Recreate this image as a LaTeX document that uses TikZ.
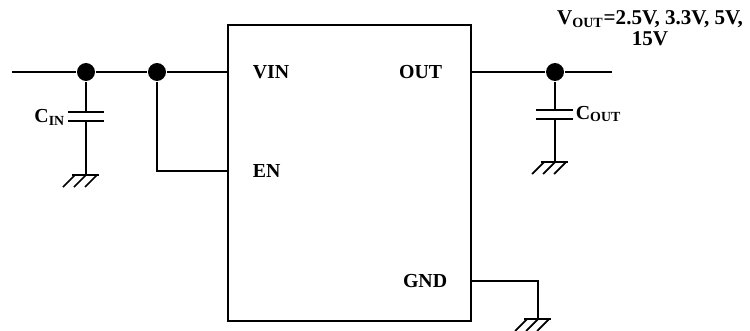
\documentclass[tikz,border=0pt]{standalone}
\usepackage{fontspec}
\setmainfont{Liberation Serif}
\tikzset{
  junction/.style={circle,fill,inner sep=0pt,minimum size=10.2pt},
  pinlbl/.style={font=\bfseries\fontsize{11.3}{12}\selectfont,inner sep=0pt},
  gnd/.pic={
    \draw (-14,0) -- (13,0);
    \draw (-11,0) -- (-23,12);
    \draw (0,0) -- (-12,12);
    \draw (11,0) -- (-1,12);
  }
}
\begin{document}
\begin{tikzpicture}[x=0.02cm,y=-0.02cm,line width=1pt]
  \useasboundingbox (0,0) rectangle (750,331);

  % Regulator
  \node (ic) [draw,line width=1pt,minimum width=4.86cm,minimum height=5.92cm,anchor=north west] at (227,24) {};
  \node (vin) [pinlbl,anchor=west] at (252,72) {VIN};
  \node (en) [pinlbl,anchor=west] at (252,171) {EN};
  \node (out) [pinlbl,anchor=east] at (443,72) {OUT};
  \node (gnd) [pinlbl,anchor=east] at (448,281) {GND};

  % Input side
  \coordinate (inl) at (12,72);
  \node (j1) [junction] at (86,72) {};
  \node (j2) [junction] at (157,72) {};
  \draw (inl) -- (j1) -- (j2) -- (ic.west |- j2);
  \draw (j2) |- (ic.west |- en);

  \coordinate (cintop) at (86,112);
  \coordinate (cinbot) at (86,121);
  \coordinate (cingnd) at (86,175);
  \draw (j1) -- (cintop);
  \draw ([xshift=-18*0.02cm]cintop) -- ([xshift=18*0.02cm]cintop);
  \draw ([xshift=-18*0.02cm]cinbot) -- ([xshift=18*0.02cm]cinbot);
  \draw (cinbot) -- (cingnd);
  \pic at (cingnd) {gnd};
  \node (cin) [pinlbl,anchor=east] at (66,117) {C\textsubscript{IN}};

  % Output side
  \coordinate (outr) at (612,72);
  \node (j3) [junction] at (555,72) {};
  \draw (ic.east |- j3) -- (j3) -- (outr);
  \coordinate (couttop) at (555,110);
  \coordinate (coutbot) at (555,119);
  \coordinate (coutgnd) at (555,162);
  \draw (j3) -- (couttop);
  \draw ([xshift=-19*0.02cm]couttop) -- ([xshift=18*0.02cm]couttop);
  \draw ([xshift=-19*0.02cm]coutbot) -- ([xshift=18*0.02cm]coutbot);
  \draw (coutbot) -- (coutgnd);
  \pic at (coutgnd) {gnd};
  \node (cout) [pinlbl,anchor=west] at (575,114) {C\textsubscript{OUT}};
  \node (vout) [pinlbl,font=\bfseries\fontsize{12}{12}\selectfont,align=center] at (650,28) {V\textsubscript{OUT}=2.5V, 3.3V, 5V,\\15V};

  % Ground pin
  \coordinate (gndr) at (538,281);
  \coordinate (gndpt) at (538,319);
  \draw (ic.east |- gnd) -- (gndr) -- (gndpt);
  \pic at (gndpt) {gnd};
\end{tikzpicture}
\end{document}
